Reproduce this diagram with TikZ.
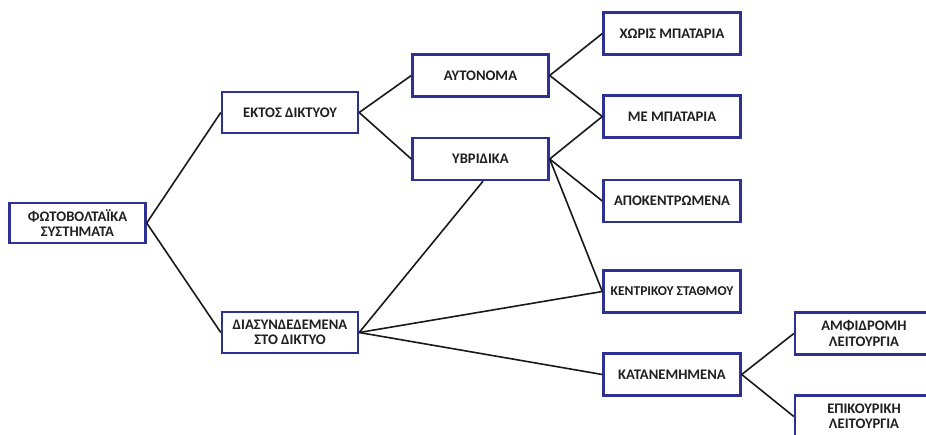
\documentclass[tikz,border=0pt]{standalone}
\usepackage{fontspec}
\setmainfont{Carlito}
\definecolor{boxblue}{HTML}{2E3192}
\definecolor{txtgray}{HTML}{1F1F1F}
\begin{document}
\begin{tikzpicture}[x=1pt,y=-1pt,
  box/.style={draw=boxblue, line width=2.4pt, fill=white, rectangle,
    minimum width=136pt, minimum height=42pt, inner sep=0pt, align=center,
    font=\fontsize{14.6}{15.5}\selectfont\bfseries, text=txtgray},
  link/.style={draw=black!90, line width=1.6pt}]
\useasboundingbox (0,0) rectangle (926,434);
\clip (0,0) rectangle (926,434);
\fill[white] (0,0) rectangle (926,434);
\node[box, minimum width=136pt, minimum height=40pt] (f) at (77.5,223) {ΦΩΤΟΒΟΛΤΑΪΚΑ\\ΣΥΣΤΗΜΑΤΑ};
\node[box, minimum height=41pt] (ek) at (290,112.5) {ΕΚΤΟΣ ΔΙΚΤΥΟΥ};
\node[box, minimum height=41pt] (dia) at (290,332.5) {ΔΙΑΣΥΝΔΕΔΕΜΕΝΑ\\ΣΤΟ ΔΙΚΤΥΟ};
\node[box] (aut) at (480.5,75.5) {ΑΥΤΟΝΟΜΑ};
\node[box] (yb) at (480.5,159) {ΥΒΡΙΔΙΚΑ};
\node[box, minimum width=137pt] (xb) at (672,33.5) {ΧΩΡΙΣ ΜΠΑΤΑΡΙΑ};
\node[box, minimum width=137pt] (mb) at (672,116.5) {ΜΕ ΜΠΑΤΑΡΙΑ};
\node[box, minimum width=137pt] (ap) at (672,201) {ΑΠΟΚΕΝΤΡΩΜΕΝΑ};
\node[box, minimum width=137pt, font=\fontsize{13.5}{15.5}\selectfont\bfseries] (ks) at (672,291.5) {ΚΕΝΤΡΙΚΟΥ ΣΤΑΘΜΟΥ};
\node[box, minimum width=137pt] (kt) at (672,374.5) {ΚΑΤΑΝΕΜΗΜΕΝΑ};
\node[box, minimum width=138pt] (am) at (864,333.5) {ΑΜΦΙΔΡΟΜΗ\\ΛΕΙΤΟΥΡΓΙΑ};
\node[box, minimum width=138pt] (ep) at (864,416.5) {ΕΠΙΚΟΥΡΙΚΗ\\ΛΕΙΤΟΥΡΓΙΑ};
\coordinate (ybs) at ([xshift=2.5pt]yb.south);
\draw[link] (f.east) -- (ek.west);
\draw[link] (f.east) -- (dia.west);
\draw[link] (ek.east) -- (aut.west);
\draw[link] (ek.east) -- (yb.west);
\draw[link] (aut.east) -- (xb.west);
\draw[link] (aut.east) -- (mb.west);
\draw[link] (yb.east) -- (mb.west);
\draw[link] (yb.east) -- (ap.west);
\draw[link] (yb.east) -- (ks.west);
\draw[link] (dia.east) -- (ybs);
\draw[link] (dia.east) -- (ks.west);
\draw[link] (dia.east) -- (kt.west);
\draw[link] (kt.east) -- (am.west);
\draw[link] (kt.east) -- (ep.west);
\end{tikzpicture}
\end{document}
